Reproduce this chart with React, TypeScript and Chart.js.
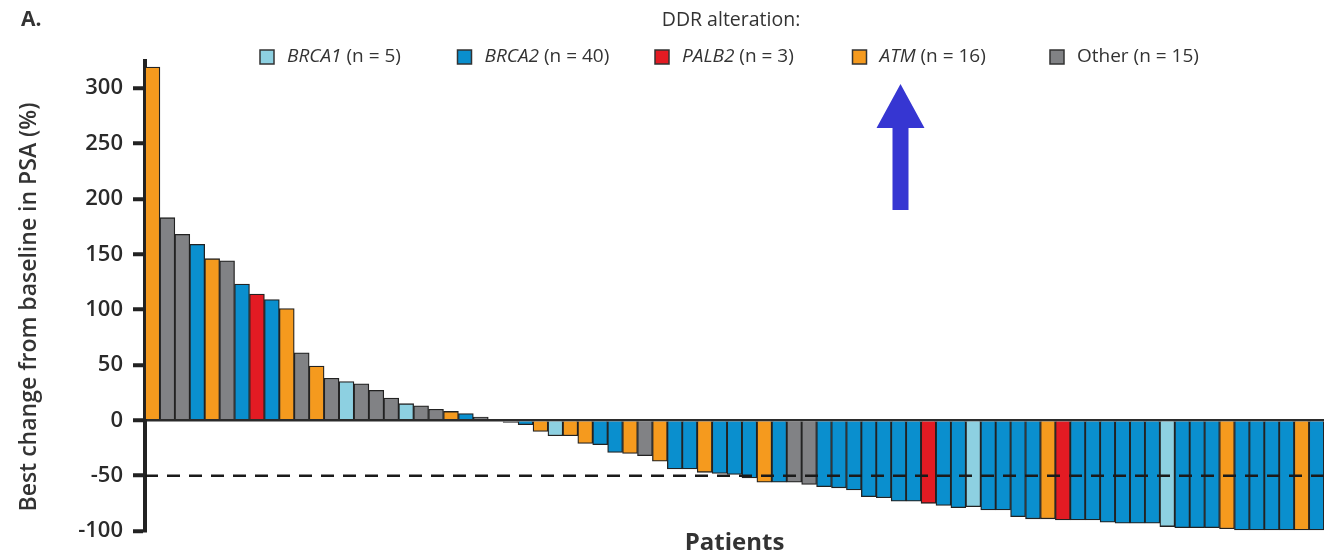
import React, { useEffect, useRef } from 'react';
import { Chart, registerables } from 'chart.js';

Chart.register(...registerables);

// ---- data ----
const GROUPS = ['BRCA1', 'BRCA2', 'PALB2', 'ATM', 'Other'];
const GROUP_COUNTS = [5, 40, 3, 16, 15];
const GROUP_ITALIC = [true, true, true, true, false];
const GROUP_COLORS = ['#8DD0E1', '#0A8FCE', '#E31B23', '#F59A1E', '#818285'];

const PATIENT_GROUPS = [
  'ATM', 'Other', 'Other', 'BRCA2', 'ATM', 'Other', 'BRCA2', 'PALB2', 'BRCA2', 'ATM',
  'Other', 'ATM', 'Other', 'BRCA1', 'Other', 'Other', 'Other', 'BRCA1', 'Other', 'Other',
  'ATM', 'BRCA2', 'Other', 'ATM', 'Other', 'BRCA2', 'ATM', 'BRCA1', 'ATM', 'ATM',
  'BRCA2', 'BRCA2', 'ATM', 'Other', 'ATM', 'BRCA2', 'BRCA2', 'ATM', 'BRCA2', 'BRCA2',
  'BRCA2', 'ATM', 'BRCA2', 'Other', 'Other', 'BRCA2', 'BRCA2', 'BRCA2', 'BRCA2', 'BRCA2',
  'BRCA2', 'BRCA2', 'PALB2', 'BRCA2', 'BRCA2', 'BRCA1', 'BRCA2', 'BRCA2', 'BRCA2', 'BRCA2',
  'ATM', 'PALB2', 'BRCA2', 'BRCA2', 'BRCA2', 'BRCA2', 'BRCA2', 'BRCA2', 'BRCA1', 'BRCA2',
  'BRCA2', 'BRCA2', 'ATM', 'BRCA2', 'BRCA2', 'BRCA2', 'BRCA2', 'ATM', 'BRCA2',
];

const PSA_CHANGE = [
  319, 183, 168, 159, 146, 144, 123, 114, 109, 101,
  61, 49, 38, 35, 33, 27, 20, 15, 13, 10,
  8, 6, 3, 0, -2, -4, -10, -14, -14, -21,
  -22, -29, -30, -32, -37, -44, -44, -47, -48, -49,
  -52, -56, -56, -56, -58, -60, -61, -63, -69, -70,
  -73, -73, -75, -77, -79, -78, -81, -81, -87, -89,
  -89, -90, -90, -90, -92, -93, -93, -93, -96, -97,
  -97, -97, -98, -99, -99, -99, -99, -99, -99,
];

const PATIENT_LABELS = PSA_CHANGE.map((_, i) => String(i + 1));
const Y_TICKS = [-100, -50, 0, 50, 100, 150, 200, 250, 300];
const Y_MIN = -100;
const Y_MAX = 325;
const RESPONSE_THRESHOLD = -50;
const Y_TITLE = 'Best change from baseline in PSA (%)';

const FONT = '"Open Sans", "DejaVu Sans", sans-serif';
const TEXT = '#333333';

const colorOf = (g: string) => GROUP_COLORS[GROUPS.indexOf(g)];

const thresholdPlugin = {
  id: 'threshold',
  afterDatasetsDraw(chart: any) {
    const { ctx, chartArea, scales } = chart;
    const y = scales.y.getPixelForValue(RESPONSE_THRESHOLD);
    ctx.save();
    ctx.strokeStyle = '#1a1a1a';
    ctx.lineWidth = 2.5;
    ctx.setLineDash([13, 9]);
    ctx.beginPath();
    ctx.moveTo(chartArea.left, y);
    ctx.lineTo(chartArea.right, y);
    ctx.stroke();
    ctx.restore();
  },
};

const legendPlugin = {
  id: 'ddrLegend',
  afterDraw(chart: any) {
    const { ctx } = chart;
    ctx.save();
    ctx.fillStyle = TEXT;
    ctx.textBaseline = 'middle';
    ctx.font = `bold 21px ${FONT}`;
    ctx.textAlign = 'left';
    ctx.fillText('A.', 21, 20);

    // y-axis title
    ctx.save();
    ctx.translate(29, 307);
    ctx.rotate(-Math.PI / 2);
    ctx.textAlign = 'center';
    ctx.font = `600 23px ${FONT}`;
    ctx.fillText(Y_TITLE, 0, 0);
    ctx.restore();

    ctx.font = `19.5px ${FONT}`;
    ctx.textAlign = 'center';
    ctx.fillText('DDR alteration:', 731, 20);

    const rowY = 57;
    const startX = 260;
    const step = 197.5;
    let atmX = 0;
    GROUPS.forEach((g, i) => {
      const x = startX + i * step;
      if (g === 'ATM') atmX = x;
      ctx.fillStyle = GROUP_COLORS[i];
      ctx.fillRect(x, rowY - 7, 14, 14);
      ctx.strokeStyle = '#333';
      ctx.lineWidth = 1.5;
      ctx.strokeRect(x, rowY - 7, 14, 14);
      let tx = x + 27;
      ctx.fillStyle = TEXT;
      ctx.textAlign = 'left';
      ctx.font = `${GROUP_ITALIC[i] ? 'italic ' : ''}19px ${FONT}`;
      ctx.fillText(g, tx, rowY);
      tx += ctx.measureText(g).width;
      ctx.font = `19px ${FONT}`;
      ctx.fillText(` (n = ${GROUP_COUNTS[i]})`, tx, rowY);
    });

    // annotation arrow pointing at the ATM legend entry
    const cx = atmX + 48;
    const tipY = rowY + 27;
    ctx.fillStyle = '#3636D2';
    ctx.beginPath();
    ctx.moveTo(cx, tipY);
    ctx.lineTo(cx + 24, tipY + 44);
    ctx.lineTo(cx + 8, tipY + 44);
    ctx.lineTo(cx + 8, tipY + 126);
    ctx.lineTo(cx - 8, tipY + 126);
    ctx.lineTo(cx - 8, tipY + 44);
    ctx.lineTo(cx - 24, tipY + 44);
    ctx.closePath();
    ctx.fill();
    ctx.restore();
  },
};

export default function App() {
  const ref = useRef<HTMLCanvasElement>(null);

  useEffect(() => {
    if (!ref.current) return;
    const chart = new Chart(ref.current, {
      type: 'bar',
      data: {
        labels: PATIENT_LABELS,
        datasets: [
          {
            data: PSA_CHANGE,
            backgroundColor: PATIENT_GROUPS.map(colorOf),
            borderColor: '#222',
            borderWidth: 1.3,
            barPercentage: 1,
            categoryPercentage: 1,
          },
        ],
      },
      options: {
        responsive: false,
        animation: false,
        layout: { padding: { top: 60.5, left: 0, right: 0, bottom: 0 } },
        plugins: {
          legend: { display: false },
          tooltip: { enabled: false },
          title: { display: false },
        },
        scales: {
          x: {
            offset: true,
            grid: { display: false, drawTicks: false },
            border: { display: false },
            ticks: { display: false },
            title: {
              display: true,
              text: 'Patients',
              color: TEXT,
              font: { family: FONT, size: 24, weight: 'bold' },
              padding: { top: 0, bottom: 1 },
            },
            afterFit: (scale: any) => {
              scale.height = 28;
            },
          },
          y: {
            min: Y_MIN,
            max: Y_MAX,
            afterBuildTicks: (scale: any) => {
              scale.ticks = Y_TICKS.map((v) => ({ value: v }));
            },
            afterFit: (scale: any) => {
              scale.width = 145;
            },
            border: { display: true, width: 4, color: '#222' },
            grid: {
              drawOnChartArea: true,
              drawTicks: true,
              tickLength: 12,
              tickWidth: 4,
              tickColor: '#222',
              lineWidth: 2.5,
              color: (c: any) => (c.tick && c.tick.value === 0 ? '#2b2b2b' : 'rgba(0,0,0,0)'),
            },
            ticks: {
              padding: 10,
              color: '#2a2a2a',
              font: { family: FONT, size: 22, weight: '600' },
            },
            title: { display: false },
          },
        },
      },
      plugins: [thresholdPlugin, legendPlugin],
    });
    return () => chart.destroy();
  }, []);

  return (
    <div style={{ position: 'absolute', left: 0, top: 0, width: 1324, height: 559, background: '#fff' }}>
      <canvas ref={ref} width={1324} height={559} style={{ display: 'block' }} />
    </div>
  );
}
